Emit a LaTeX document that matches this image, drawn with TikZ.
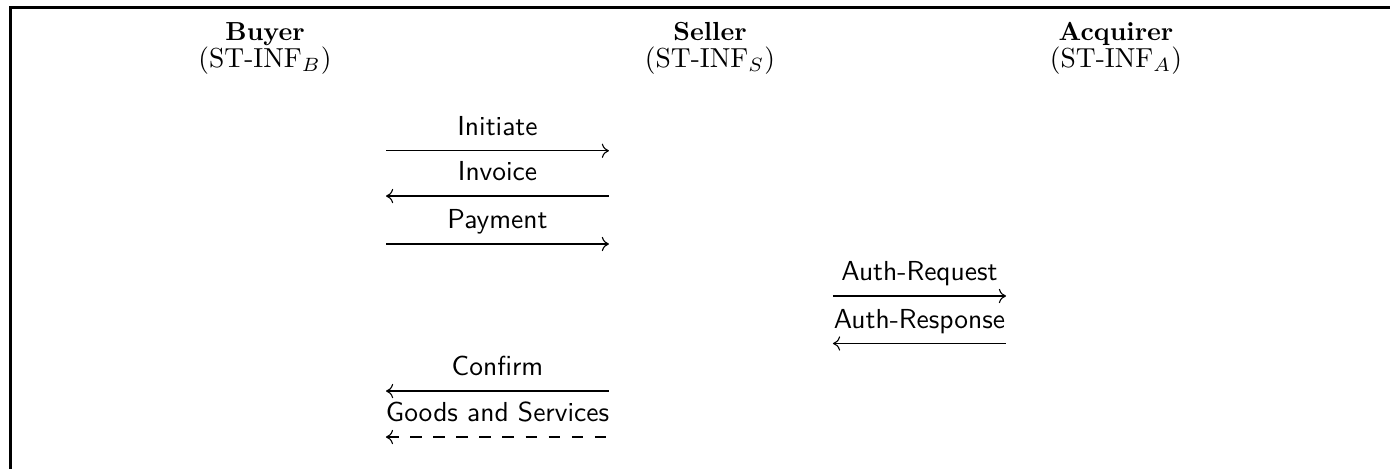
\documentclass[tikz,border=0pt]{standalone}
\usepackage{amsmath, amssymb}
\usepackage{tikz}
\usetikzlibrary{arrows.meta}

\begin{document}
\begin{tikzpicture}[
  party/.style={anchor=base, inner sep=0pt, font=\fontsize{9.5}{11}\selectfont\bfseries},
  role/.style={anchor=base, inner sep=0pt},
  msg/.style={anchor=south, font=\sffamily, inner xsep=0pt, inner ysep=5.6pt, outer sep=0pt, text depth=0pt},
  longmsg/.style={msg, minimum width=2.85cm},
  shortmsg/.style={msg, minimum width=2.212cm},
  >={To[length=2.6pt,width=5.2pt]}
]

\useasboundingbox (0,0) rectangle (17.77,-5.996);

%% frame
\draw[line width=1.1pt] (17.77,-0.096) -- (0.132,-0.096) -- (0.132,-5.996);

%% parties
\node[party] (buyer) at (3.388,-0.520) {Buyer};
\node[role] (buyerinf) at (3.388,-0.866) {(ST-INF$_B$)};
\node[party] (seller) at (9.077,-0.520) {Seller};
\node[role] (sellerinf) at (9.077,-0.866) {(ST-INF$_S$)};
\node[party] (acquirer) at (14.267,-0.520) {Acquirer};
\node[role] (acquirerinf) at (14.267,-0.866) {(ST-INF$_A$)};

%% messages buyer - seller
\node[longmsg] (initiate) at (6.36,-1.927) {Initiate};
\node[longmsg] (invoice) at (6.36,-2.506) {Invoice};
\node[longmsg] (payment) at (6.36,-3.119) {Payment};

%% messages seller - acquirer
\node[shortmsg] (authreq) at (11.755,-3.784) {Auth-Request};
\node[shortmsg] (authresp) at (11.755,-4.391) {Auth-Response};

%% messages seller - buyer
\node[longmsg] (confirm) at (6.36,-4.999) {Confirm};
\node[longmsg] (goods) at (6.36,-5.587) {Goods and Services};

%%% arrows
\draw[->] (initiate.south west) -- (initiate.south east);
\draw[<-] (invoice.south west) -- (invoice.south east);
\draw[->] (payment.south west) -- (payment.south east);
\draw[->] (authreq.south west) -- (authreq.south east);
\draw[<-] (authresp.south west) -- (authresp.south east);
\draw[<-] (confirm.south west) -- (confirm.south east);
\draw[<-, dash pattern=on 4.2pt off 4.2pt] (goods.south west) -- (goods.south east);

\end{tikzpicture}
\end{document}
